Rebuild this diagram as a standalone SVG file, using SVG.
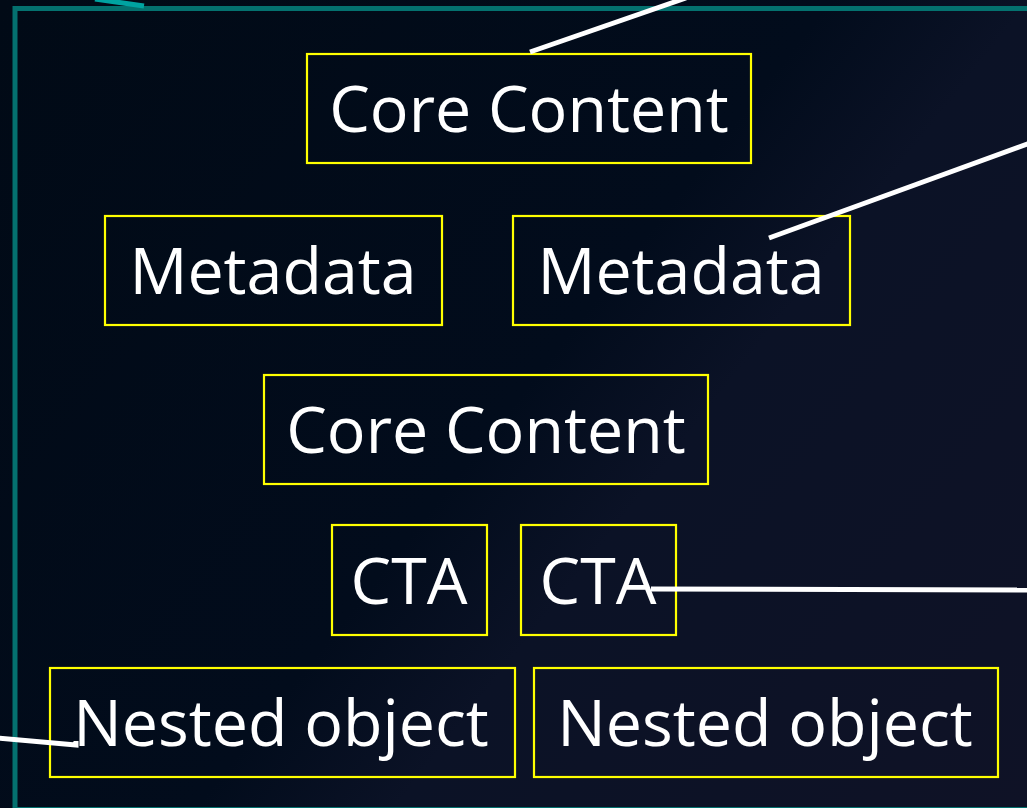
<svg xmlns="http://www.w3.org/2000/svg" width="1027" height="808" viewBox="0 0 1027 808">
<defs>
<linearGradient id="bg" x1="0" y1="0" x2="1027" y2="808" gradientUnits="userSpaceOnUse">
<stop offset="0" stop-color="#010a16"/>
<stop offset="0.5" stop-color="#020c1c"/>
<stop offset="0.62" stop-color="#0b1226"/>
<stop offset="1" stop-color="#0f1226"/>
</linearGradient>
<style>
.box{fill:none;stroke:#ffff00;stroke-width:2.2}
.lbl{font-family:"Open Sans","Liberation Sans",sans-serif;font-size:64.5px;fill:#ffffff;text-anchor:middle}
.con{stroke:#ffffff;stroke-width:5;fill:none}
</style>
</defs>
<rect width="1027" height="808" fill="url(#bg)"/>
<g id="frame">
<path d="M1030,8.5 H15 V809.5 H1030" fill="none" stroke="#04716f" stroke-width="5"/>
<line x1="95" y1="-1" x2="144" y2="6" stroke="#00a3a1" stroke-width="5"/>
</g>
<g id="n1"><rect class="box" x="307" y="54" width="444" height="109"/><text class="lbl" x="529" y="132">Core Content</text></g>
<g id="n2"><rect class="box" x="105" y="216" width="337" height="109"/><text class="lbl" x="273" y="294">Metadata</text></g>
<g id="n3"><rect class="box" x="513" y="216" width="337" height="109"/><text class="lbl" x="681" y="294">Metadata</text></g>
<g id="n4"><rect class="box" x="264" y="375" width="444" height="109"/><text class="lbl" x="486" y="453">Core Content</text></g>
<g id="n5"><rect class="box" x="332" y="525" width="155" height="110"/><text class="lbl" x="409" y="604">CTA</text></g>
<g id="n6"><rect class="box" x="521" y="525" width="155" height="110"/><text class="lbl" x="598" y="604">CTA</text></g>
<g id="n7"><rect class="box" x="50" y="668" width="465" height="109"/><text class="lbl" x="281" y="746">Nested object</text></g>
<g id="n8"><rect class="box" x="534" y="668" width="464" height="109"/><text class="lbl" x="765" y="746">Nested object</text></g>
<g id="connectors">
<line class="con" x1="530" y1="52" x2="686" y2="-2"/>
<line class="con" x1="769" y1="238" x2="1030" y2="143"/>
<line class="con" x1="651" y1="589" x2="1030" y2="590"/>
<polyline class="con" points="-2,738 76,745 76,741"/>
</g>
</svg>
